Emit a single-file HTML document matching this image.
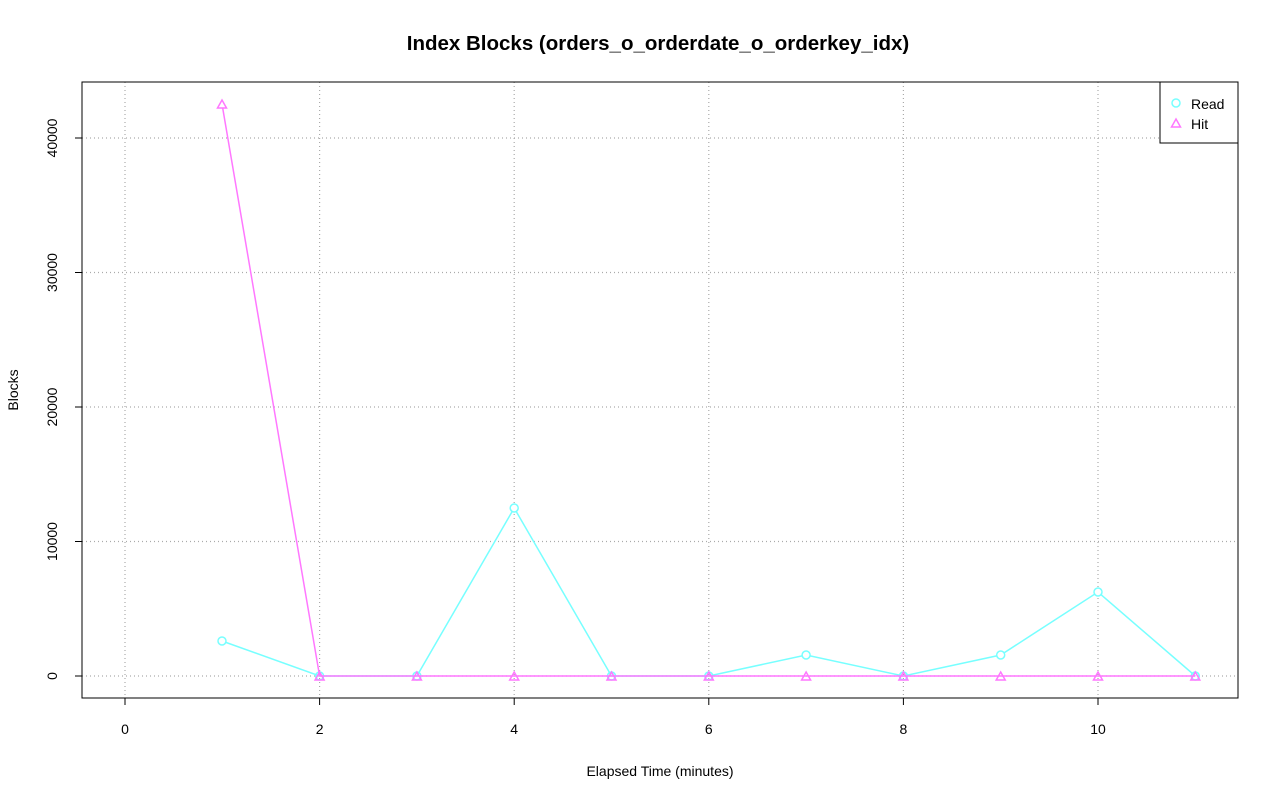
<!DOCTYPE html>
<html><head><meta charset="utf-8"><style>body{margin:0;background:#fff}</style></head><body>
<svg width="1280" height="801" xmlns="http://www.w3.org/2000/svg" font-family="Liberation Sans, sans-serif">
<rect width="1280" height="801" fill="#fff"/>
<text x="658" y="50" text-anchor="middle" font-size="20.5" font-weight="bold">Index Blocks (orders_o_orderdate_o_orderkey_idx)</text>
<g stroke="#aaa" stroke-dasharray="1,3" stroke-width="1.2">
<line x1="125" y1="82" x2="125" y2="698"/><line x1="319.6" y1="82" x2="319.6" y2="698"/>
<line x1="514.2" y1="82" x2="514.2" y2="698"/><line x1="708.8" y1="82" x2="708.8" y2="698"/>
<line x1="903.4" y1="82" x2="903.4" y2="698"/><line x1="1098" y1="82" x2="1098" y2="698"/>
<line x1="82" y1="676" x2="1238" y2="676"/><line x1="82" y1="541.5" x2="1238" y2="541.5"/>
<line x1="82" y1="407" x2="1238" y2="407"/><line x1="82" y1="272.5" x2="1238" y2="272.5"/>
<line x1="82" y1="138" x2="1238" y2="138"/>
</g>
<rect x="82" y="82" width="1156" height="616" fill="none" stroke="#000"/>
<g stroke="#000"><line x1="125" y1="698" x2="1098" y2="698"/>
<line x1="125" y1="698" x2="125" y2="705"/><line x1="319.6" y1="698" x2="319.6" y2="705"/><line x1="514.2" y1="698" x2="514.2" y2="705"/><line x1="708.8" y1="698" x2="708.8" y2="705"/><line x1="903.4" y1="698" x2="903.4" y2="705"/><line x1="1098" y1="698" x2="1098" y2="705"/>
<line x1="82" y1="138" x2="82" y2="676"/>
<line x1="82" y1="676" x2="75" y2="676"/><line x1="82" y1="541.5" x2="75" y2="541.5"/><line x1="82" y1="407" x2="75" y2="407"/><line x1="82" y1="272.5" x2="75" y2="272.5"/><line x1="82" y1="138" x2="75" y2="138"/></g>
<g font-size="14" text-anchor="middle">
<text x="125" y="734">0</text><text x="319.6" y="734">2</text><text x="514.2" y="734">4</text><text x="708.8" y="734">6</text><text x="903.4" y="734">8</text><text x="1098" y="734">10</text>
<text transform="translate(57,676) rotate(-90)">0</text>
<text transform="translate(57,541.5) rotate(-90)">10000</text>
<text transform="translate(57,407) rotate(-90)">20000</text>
<text transform="translate(57,272.5) rotate(-90)">30000</text>
<text transform="translate(57,138) rotate(-90)">40000</text>
<text x="660" y="776">Elapsed Time (minutes)</text>
<text transform="translate(18,390) rotate(-90)">Blocks</text>
</g>
<g fill="none" stroke="#7ff" stroke-width="1.5">
<polyline points="222,641 319.6,676 416.9,676 514.2,508 611.5,676 708.8,676 806.1,655 903.4,676 1000.7,655 1098,592 1195.3,676"/>
<g stroke-width="1.5"><circle cx="222" cy="641" r="4" fill="#fff"/><circle cx="319.6" cy="676" r="4"/><circle cx="416.9" cy="676" r="4"/><circle cx="514.2" cy="508" r="4" fill="#fff"/><circle cx="611.5" cy="676" r="4"/><circle cx="708.8" cy="676" r="4"/><circle cx="806.1" cy="655" r="4" fill="#fff"/><circle cx="903.4" cy="676" r="4"/><circle cx="1000.7" cy="655" r="4" fill="#fff"/><circle cx="1098" cy="592" r="4" fill="#fff"/><circle cx="1195.3" cy="676" r="4"/></g>
</g>
<g fill="none" stroke="#f7f" stroke-width="1.5">
<polyline points="222,104 319.6,676 1195.3,676"/>
<path d="M222,100 l4.5,8 h-9 z" fill="#fff"/>
<path d="M319.6,672 l4.5,8 h-9 z"/><path d="M416.9,672 l4.5,8 h-9 z"/><path d="M514.2,672 l4.5,8 h-9 z"/><path d="M611.5,672 l4.5,8 h-9 z"/><path d="M708.8,672 l4.5,8 h-9 z"/><path d="M806.1,672 l4.5,8 h-9 z"/><path d="M903.4,672 l4.5,8 h-9 z"/><path d="M1000.7,672 l4.5,8 h-9 z"/><path d="M1098,672 l4.5,8 h-9 z"/><path d="M1195.3,672 l4.5,8 h-9 z"/>
</g>
<rect x="1160" y="82" width="78" height="61" fill="#fff" stroke="#000"/>
<circle cx="1176" cy="103" r="4" fill="none" stroke="#7ff" stroke-width="1.5"/>
<path d="M1176,119 l4.5,8 h-9 z" fill="none" stroke="#f7f" stroke-width="1.5"/>
<text x="1191" y="109" font-size="14">Read</text>
<text x="1191" y="129" font-size="14">Hit</text>
</svg>
</body></html>
